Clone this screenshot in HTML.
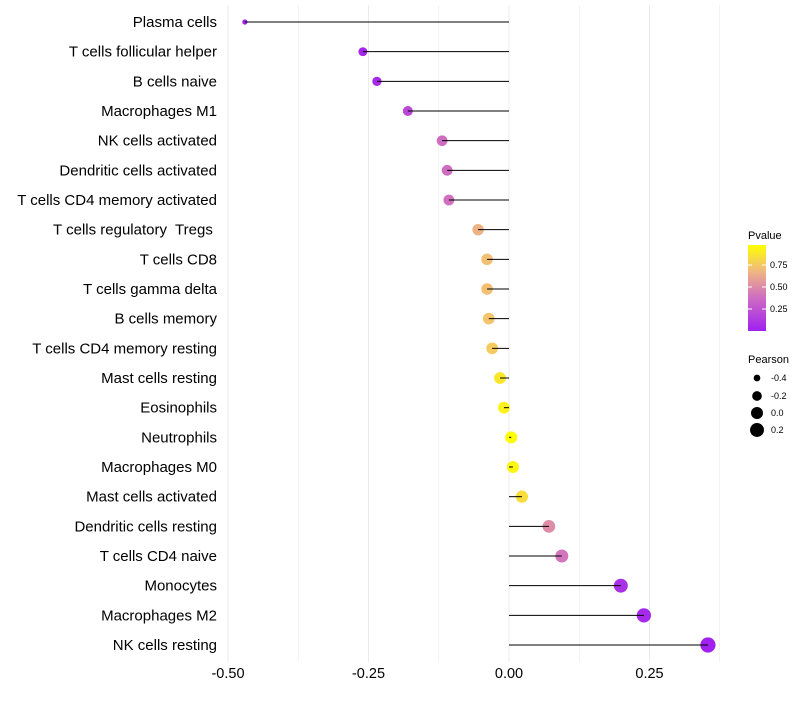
<!DOCTYPE html>
<html><head><meta charset="utf-8"><style>
body{margin:0;background:#fff;font-family:"Liberation Sans",sans-serif;}
text{white-space:pre;}
</style></head><body>
<svg id="chart" width="800" height="700" xmlns="http://www.w3.org/2000/svg" font-family="Liberation Sans, sans-serif">
<defs><linearGradient id="pg" x1="0" y1="1" x2="0" y2="0">
<stop offset="0" stop-color="#a020f0"/><stop offset="0.4" stop-color="#d070c0"/><stop offset="0.7" stop-color="#f0b880"/><stop offset="1" stop-color="#ffff00"/></linearGradient></defs>
<g id="grid"></g><g id="dots"></g><g id="marks"></g><g id="labels"></g><g id="legend"></g>
</svg>
<script>
const categories=["Plasma cells","T cells follicular helper","B cells naive","Macrophages M1","NK cells activated","Dendritic cells activated","T cells CD4 memory activated","T cells regulatory  Tregs ","T cells CD8","T cells gamma delta","B cells memory","T cells CD4 memory resting","Mast cells resting","Eosinophils","Neutrophils","Macrophages M0","Mast cells activated","Dendritic cells resting","T cells CD4 naive","Monocytes","Macrophages M2","NK cells resting"];
const pearson=[-0.470,-0.260,-0.235,-0.180,-0.119,-0.110,-0.107,-0.055,-0.039,-0.039,-0.036,-0.030,-0.016,-0.009,0.004,0.007,0.023,0.071,0.094,0.199,0.240,0.354];
const pvalue=[0.01,0.03,0.04,0.2,0.38,0.39,0.4,0.68,0.73,0.73,0.75,0.78,0.9,0.94,0.99,0.96,0.86,0.52,0.42,0.08,0.05,0.01];
const xTicks=[-0.5,-0.25,0,0.25];
const xTickLabels=["-0.50","-0.25","0.00","0.25"];
const ns="http://www.w3.org/2000/svg";
const X=v=>509+v*562;
const Y=i=>22+i*29.667;
function mk(t,a,p){const e=document.createElementNS(ns,t);for(const k in a)e.setAttribute(k,a[k]);p.appendChild(e);return e;}
function lerp(a,b,t){return a.map((x,i)=>Math.round(x+(b[i]-x)*t));}
function col(p){const s=[[0,[160,32,240]],[0.4,[208,112,192]],[0.7,[240,184,128]],[1,[255,255,0]]];
for(let i=1;i<s.length;i++){if(p<=s[i][0]){const t=(p-s[i-1][0])/(s[i][0]-s[i-1][0]);const c=lerp(s[i-1][1],s[i][1],t);return `rgb(${c})`;}}return "rgb(255,255,0)";}
const R=v=>Math.sqrt(Math.max(4,36+62*v));
const grid=document.getElementById('grid'),dots=document.getElementById('dots'),marks=document.getElementById('marks'),labels=document.getElementById('labels'),leg=document.getElementById('legend');
for(let v=-0.5;v<=0.38;v+=0.125){const g=mk('line',{x1:X(v),x2:X(v),y1:5,y2:662,stroke:'#ebebeb','stroke-width':(Math.abs((v*4)%1)<1e-6)?1:0.6},grid);

}
xTicks.forEach((v,i)=>{const t=mk('text',{x:X(v),y:678,'text-anchor':'middle','font-size':14.5,fill:'#000'},labels);t.textContent=xTickLabels[i];

});
categories.forEach((c,i)=>{
const t=mk('text',{x:217,y:Y(i)+5,'text-anchor':'end','font-size':15,fill:'#000','xml:space':'preserve'},labels);t.textContent=c;


const d=mk('circle',{cx:X(pearson[i]),cy:Y(i),r:R(pearson[i]),fill:col(pvalue[i])},dots);


const l=mk('line',{x1:X(0),x2:X(pearson[i]),y1:Y(i),y2:Y(i),stroke:'#000','stroke-width':1},marks);


});
let t=mk('text',{x:748,y:239,'font-size':11},leg);t.textContent='Pvalue';
let b=mk('rect',{x:748,y:245,width:18,height:86,fill:'url(#pg)'},leg);
[[0.75,265],[0.5,287],[0.25,309]].forEach(([v,y])=>{const e=mk('text',{x:770,y:y+3,'font-size':9},leg);e.textContent=v.toFixed(2);


mk('line',{x1:748,x2:752,y1:y,y2:y,stroke:'#fff'},leg);mk('line',{x1:762,x2:766,y1:y,y2:y,stroke:'#fff'},leg);});
t=mk('text',{x:748,y:363,'font-size':11},leg);t.textContent='Pearson';
[[-0.4,378],[-0.2,396],[0,413],[0.2,430]].forEach(([v,y])=>{const c=mk('circle',{cx:757,cy:y,r:R(v),fill:'#000'},leg);


const e=mk('text',{x:771,y:y+3,'font-size':9},leg);e.textContent=v.toFixed(1);

});
</script>
</body></html>
